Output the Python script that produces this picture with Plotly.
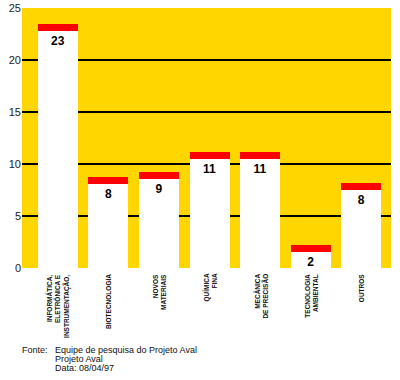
import plotly.graph_objects as go

categories = ["INFORMÁTICA,<br>ELETRÔNICA E<br>INSTRUMENTAÇÃO,", "BIOTECNOLOGIA",
              "NOVOS<br>MATERIAIS", "QUÍMICA<br>FINA", "MECÂNICA<br>DE PRECISÃO",
              "TECNOLOGIA<br>AMBIENTAL", "OUTROS"]
labels = ["23", "8", "9", "11", "11", "2", "8"]
bar_heights = [22.8, 8.1, 8.55, 10.5, 10.5, 1.55, 7.5]   # white part
cap = [0.68] * 7                                          # red cap
y_ticks = [0, 5, 10, 15, 20, 25]
footer_lines = ["Equipe de pesquisa do Projeto Aval", "Projeto Aval", "Data: 08/04/97"]

idx = list(range(len(categories)))

fig = go.Figure()
fig.add_trace(go.Bar(x=idx, y=bar_heights, width=0.79, marker=dict(color="white", line=dict(width=0)),
                     text=labels, textposition="inside", insidetextanchor="end", textangle=0,
                     textfont=dict(family="Liberation Sans", size=12, color="black", weight="bold"),
                     constraintext="none", hoverinfo="skip"))
fig.add_trace(go.Bar(x=idx, y=cap, width=0.79, marker=dict(color="#FF0000", line=dict(width=0)),
                     hoverinfo="skip"))

for i, c in enumerate(categories):
    fig.add_annotation(x=i, y=0, xref="x", yref="paper", yshift=-4, text=c, textangle=-90,
                       showarrow=False, xanchor="center", yanchor="top", align="right",
                       font=dict(family="Liberation Sans", size=6.5, color="#111", weight="bold"))

fig.add_annotation(x=0, y=0, xref="paper", yref="paper", xshift=-2, yshift=-82, text="Fonte:",
                   showarrow=False, xanchor="left", yanchor="middle",
                   font=dict(family="Liberation Sans", size=9, color="#111"))
for k, line in enumerate(footer_lines):
    fig.add_annotation(x=0, y=0, xref="paper", yref="paper", xshift=31, yshift=-82 - 9 * k,
                       text=line, showarrow=False, xanchor="left", yanchor="middle",
                       font=dict(family="Liberation Sans", size=9, color="#111"))

fig.update_layout(
    barmode="stack", showlegend=False, width=400, height=380,
    margin=dict(l=22, r=9, t=8, b=112, autoexpand=False),
    paper_bgcolor="white", plot_bgcolor="#FFD600",
    xaxis=dict(range=[-0.71, 6.59], showticklabels=False, showgrid=False, zeroline=False,
               fixedrange=True, automargin=False),
    yaxis=dict(range=[0, 25.05], tickvals=y_ticks, showgrid=True, gridcolor="black", gridwidth=2,
               zeroline=False, ticks="", ticklen=0, automargin=False,
               tickfont=dict(family="Liberation Sans", size=11, color="#222")),
)

fig.write_html("out.html")
